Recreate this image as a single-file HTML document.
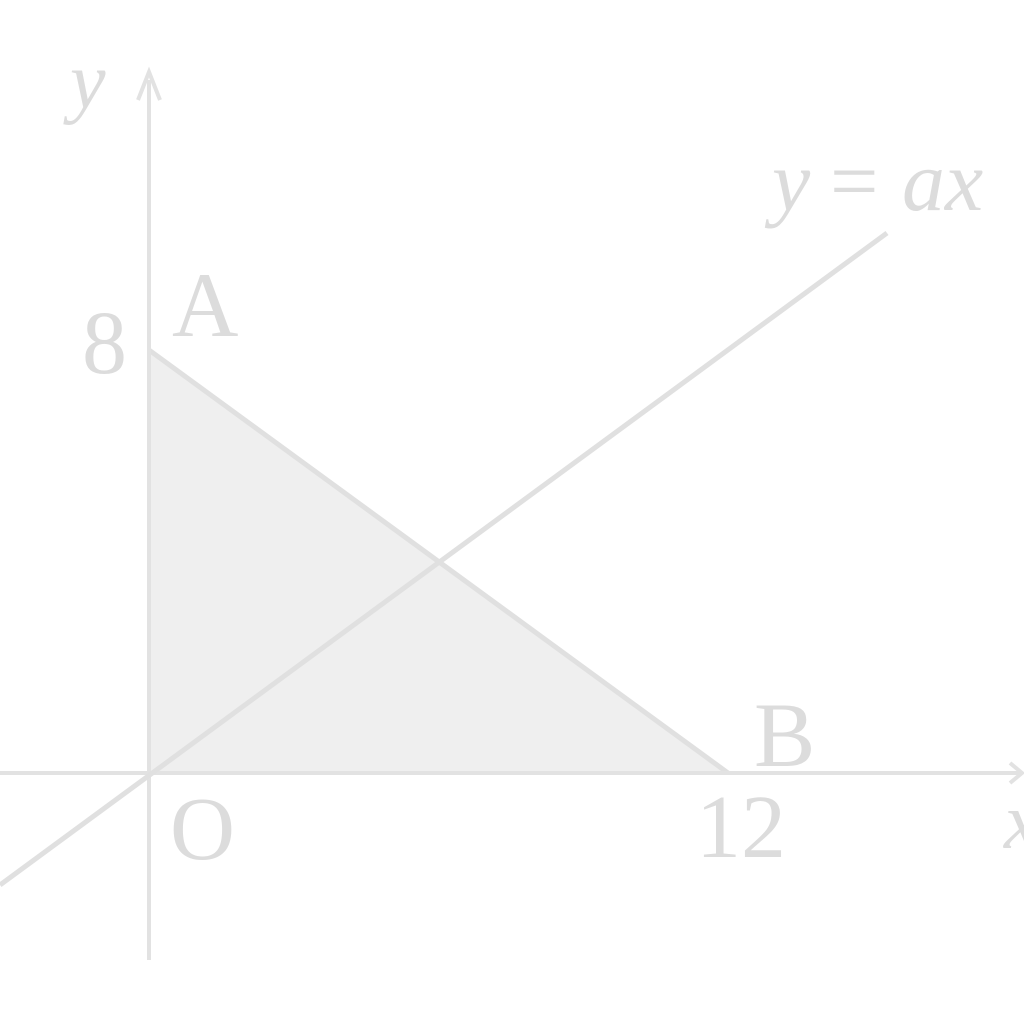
<!DOCTYPE html>
<html><head><meta charset="utf-8"><style>
html,body{margin:0;padding:0;background:#fff;}
svg{display:block}
text{font-family:"Liberation Serif",serif;fill:#dcdcdc;}
</style></head><body>
<svg width="1024" height="1024" viewBox="0 0 1024 1024">
<polygon points="149,350 149,773 728,773" fill="#efefef"/>
<line x1="149" y1="350" x2="728" y2="773" stroke="#e0e0e0" stroke-width="5"/>
<line x1="149" y1="960" x2="149" y2="80" stroke="#e2e2e2" stroke-width="4"/>
<polyline points="138,100 149,72 160,100" fill="none" stroke="#e2e2e2" stroke-width="4"/>
<line x1="0" y1="773" x2="1020" y2="773" stroke="#e2e2e2" stroke-width="4"/>
<polyline points="1010,763 1022,773 1010,783" fill="none" stroke="#e2e2e2" stroke-width="4"/>
<line x1="0" y1="885" x2="887" y2="233" stroke="#e0e0e0" stroke-width="5"/>
<text x="70" y="108" font-size="80" font-style="italic">y</text>
<text x="82" y="373" font-size="90">8</text>
<text x="172" y="336" font-size="92">A</text>
<text x="170" y="859" font-size="90">O</text>
<text x="696" y="857" font-size="90">12</text>
<text x="754" y="766" font-size="92">B</text>
<text x="772" y="210" font-size="86" font-style="italic">y</text>
<text x="830" y="210" font-size="86">=</text>
<text x="902" y="210" font-size="86" font-style="italic">ax</text>
<text x="1004" y="848" font-size="80" font-style="italic">x</text>
</svg>
</body></html>
